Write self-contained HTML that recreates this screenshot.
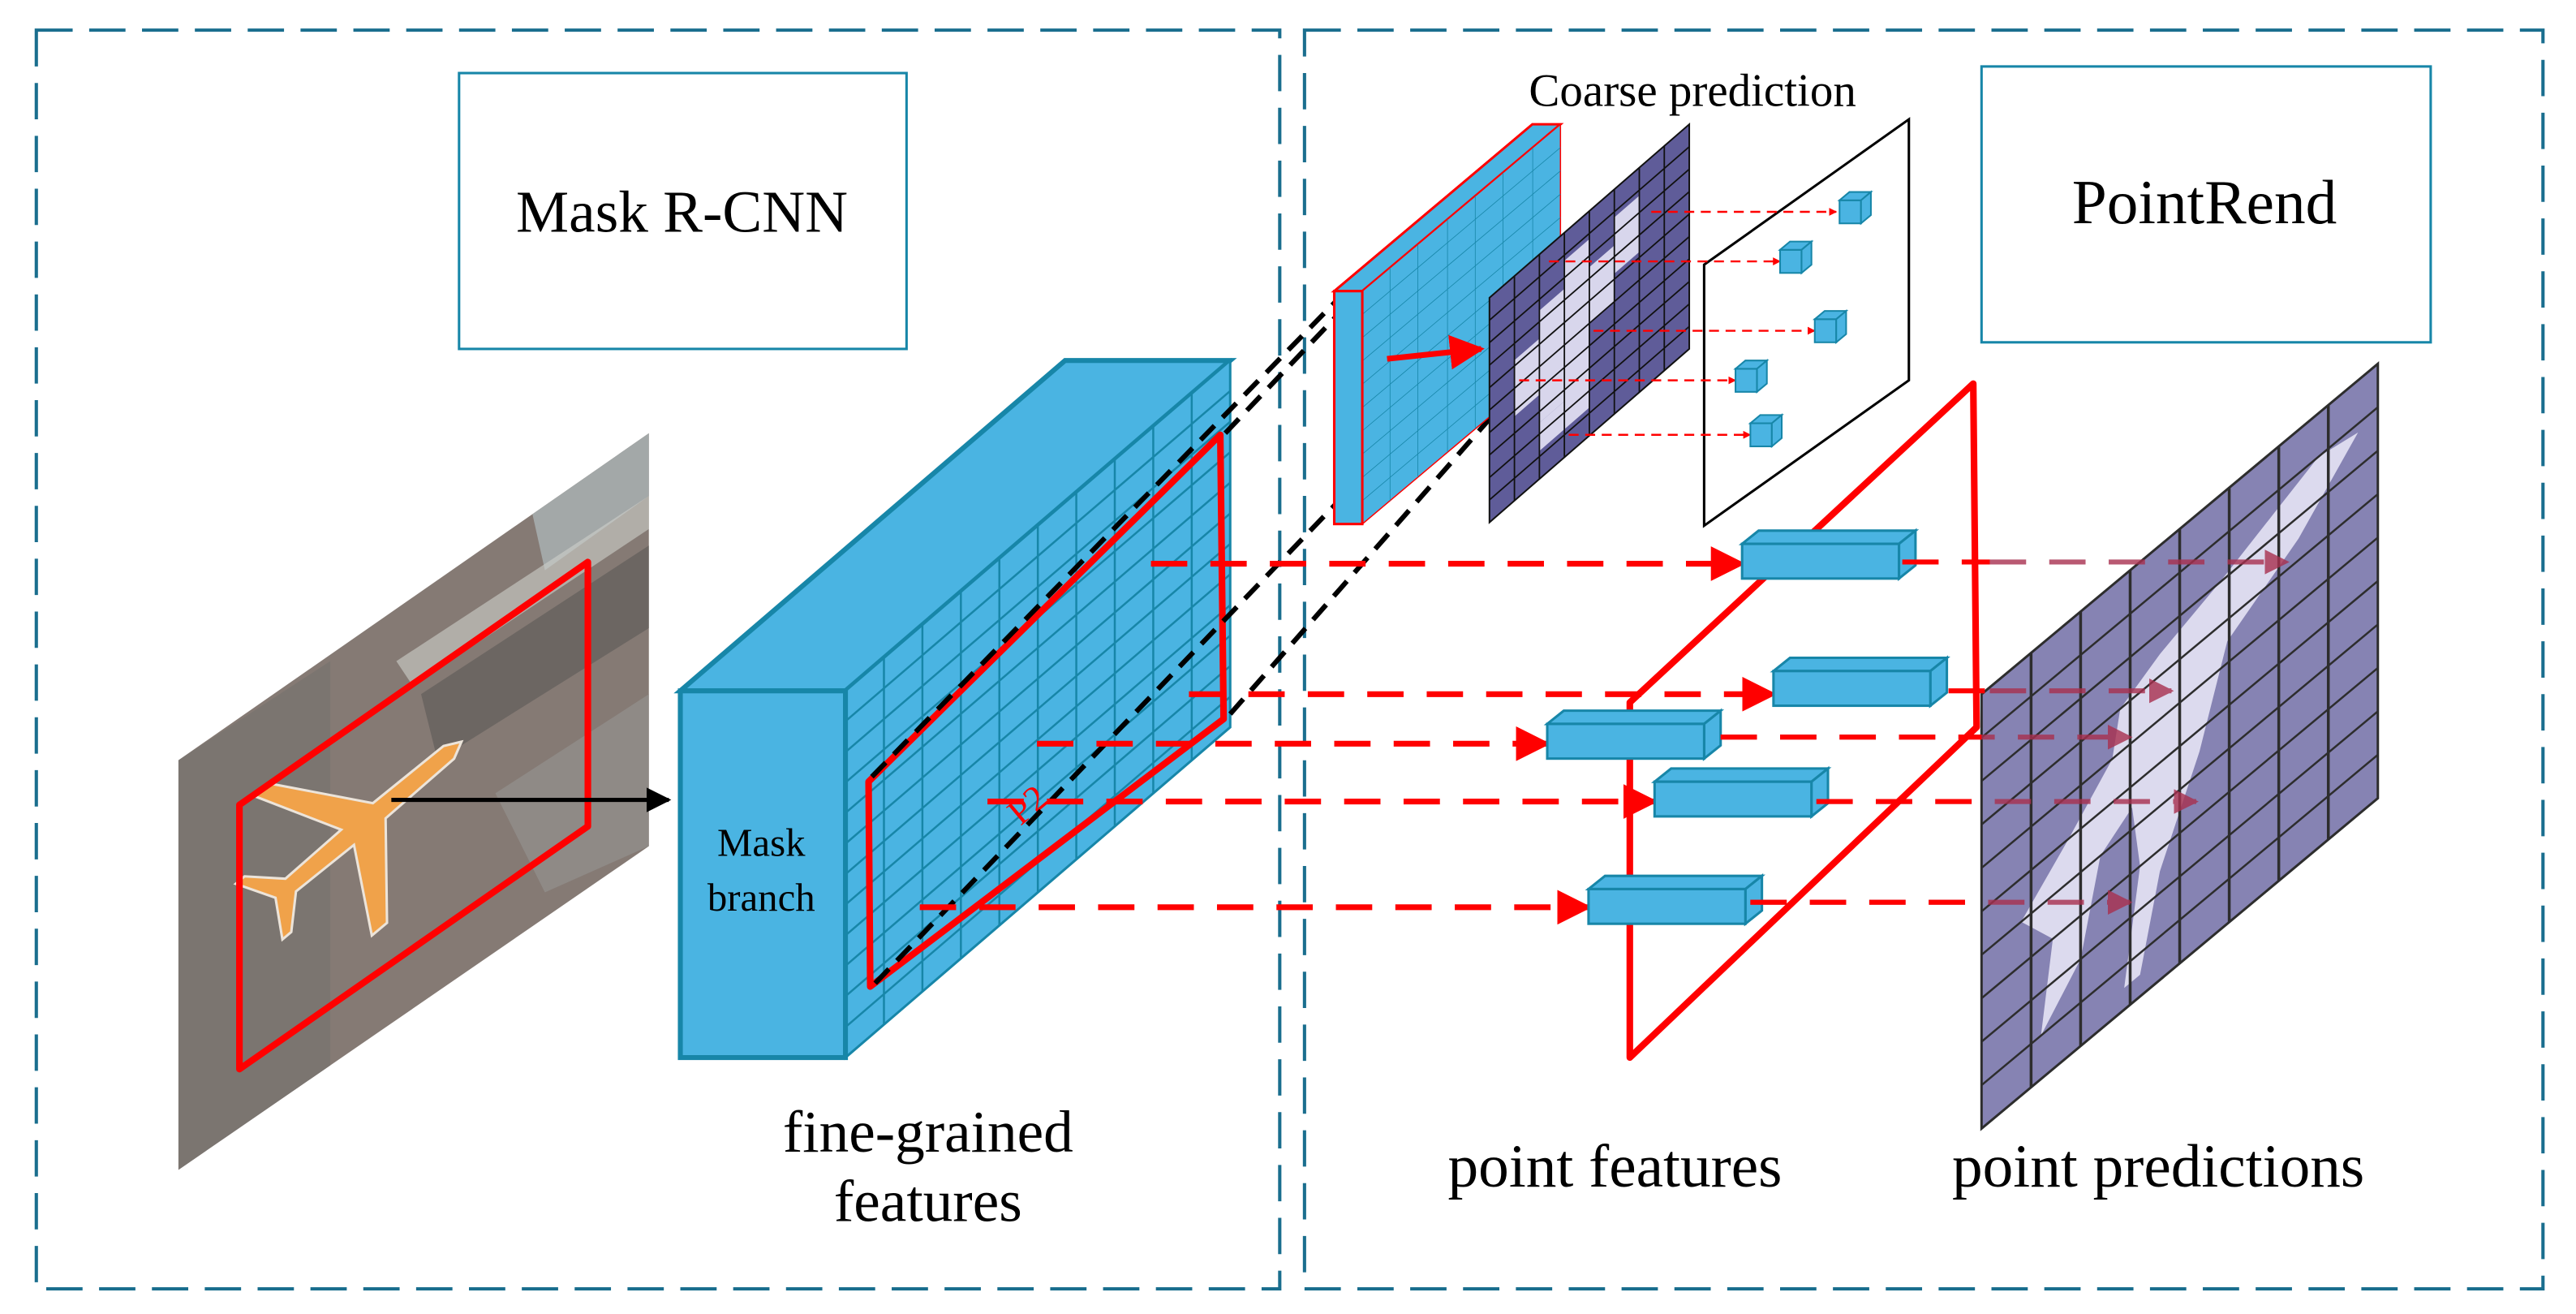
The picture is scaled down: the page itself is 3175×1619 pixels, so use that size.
<!DOCTYPE html>
<html><head><meta charset="utf-8"><style>
html,body{margin:0;padding:0;background:#fff;}
svg{display:block;}
text{font-family:"Liberation Serif",serif;fill:#000;}
</style></head><body>
<svg width="3175" height="1619" viewBox="0 0 1560 795" xmlns="http://www.w3.org/2000/svg">
<defs>
<marker id="ar" viewBox="0 0 10 10" refX="9" refY="5" markerWidth="4" markerHeight="4" orient="auto"><path d="M0,0 L10,5 L0,10 z" fill="#ff0000"/></marker>
<marker id="ars" viewBox="0 0 10 10" refX="9" refY="5" markerWidth="6" markerHeight="6" orient="auto"><path d="M0,0 L10,5 L0,10 z" fill="#ff0000"/></marker>
<marker id="arb" viewBox="0 0 10 10" refX="9" refY="5" markerWidth="6" markerHeight="6" orient="auto"><path d="M0,0 L10,5 L0,10 z" fill="#000"/></marker>
<marker id="arp" viewBox="0 0 10 10" refX="9" refY="5" markerWidth="5" markerHeight="5" orient="auto"><path d="M0,0 L10,5 L0,10 z" fill="#a8304f"/></marker>
<clipPath id="img"><polygon points="108,460 393,262 393,512 108,708"/></clipPath>
</defs>

<!-- panels -->
<rect x="22" y="18" width="753" height="762" fill="none" stroke="#1a6e8e" stroke-width="2" stroke-dasharray="22,10"/>
<rect x="790" y="18" width="750" height="762" fill="none" stroke="#1a6e8e" stroke-width="2" stroke-dasharray="22,10"/>

<rect x="278" y="44" width="271" height="167" fill="#fff" stroke="#1786a8" stroke-width="1.5"/>
<text x="413" y="140" font-size="36" text-anchor="middle">Mask R-CNN</text>
<rect x="1200" y="40" width="272" height="167" fill="#fff" stroke="#1786a8" stroke-width="1.5"/>
<text x="1335" y="135" font-size="38" text-anchor="middle">PointRend</text>

<!-- aerial image -->
<g clip-path="url(#img)">
<rect x="100" y="250" width="300" height="470" fill="#857a74"/>
<polygon points="108,460 200,400 200,650 108,708" fill="#7b7570"/>
<polygon points="320,300 393,250 393,300 330,345" fill="#a3a8a8"/>
<polygon points="240,400 393,300 393,320 250,415" fill="#cfd0cc" opacity="0.6"/>
<polygon points="255,420 393,330 393,380 265,460" fill="#6c6662"/>
<polygon points="300,480 393,420 393,512 330,540" fill="#8f8a86"/>
</g>
<g transform="translate(222,497) rotate(-40)">
<polygon points="75,0 65,-5 10,-6 -30,-55 -42,-55 -15,-6 -60,-5 -78,-22 -85,-22 -72,0 -85,22 -78,22 -60,5 -15,6 -42,55 -30,55 10,6 65,5" fill="#f0a24a" stroke="#ece4da" stroke-width="1.5"/>
</g>
<polygon points="145,487 356,340 356,500 145,647" fill="none" stroke="#ff0000" stroke-width="4" stroke-linejoin="round"/>
<line x1="237" y1="484" x2="405" y2="484" stroke="#000" stroke-width="2.5" marker-end="url(#arb)"/>

<!-- fine-grained box -->
<polygon points="412,418 512,418 745,218 645,218" fill="#4ab4e2" stroke="#1786a8" stroke-width="3"/>
<g transform="matrix(233,-200,0,222,512,418)">
<rect x="0" y="0" width="1" height="1" fill="#4ab4e2" stroke="#1786a8" stroke-width="3" vector-effect="non-scaling-stroke"/>
<path d="M0.1,0V1M0.2,0V1M0.3,0V1M0.4,0V1M0.5,0V1M0.6,0V1M0.7,0V1M0.8,0V1M0.9,0V1M0,0.083H1M0,0.167H1M0,0.25H1M0,0.333H1M0,0.417H1M0,0.5H1M0,0.583H1M0,0.667H1M0,0.75H1M0,0.833H1M0,0.917H1" stroke="#1786a8" stroke-width="2.5" fill="none" vector-effect="non-scaling-stroke"/>
</g>
<rect x="412" y="418" width="100" height="222" fill="#4ab4e2" stroke="#1786a8" stroke-width="3"/>
<text x="461" y="518" font-size="24" text-anchor="middle">Mask</text>
<text x="461" y="551" font-size="24" text-anchor="middle">branch</text>

<polygon points="526,473 739,263 741,435 527,597" fill="none" stroke="#ff0000" stroke-width="4" stroke-linejoin="round"/>
<text x="0" y="0" font-size="22" style="fill:#ff0000" transform="translate(618,500) rotate(-40)">P2</text>

<!-- black dashed projection lines -->
<g stroke="#000" stroke-width="3" stroke-dasharray="12,7" fill="none">
<line x1="528" y1="470" x2="815" y2="176"/>
<line x1="530" y1="595" x2="905" y2="205"/>
<line x1="742" y1="262" x2="820" y2="180"/>
<line x1="745" y1="432" x2="905" y2="250"/>
</g>

<!-- small blue feature map -->
<polygon points="808,176 825,176 945,75 928,75" fill="#4ab4e2" stroke="#ff0000" stroke-width="1.5"/>
<g transform="matrix(120,-101,0,141,825,176)">
<rect x="0" y="0" width="1" height="1" fill="#4ab4e2" stroke="#ff0000" stroke-width="1.5" vector-effect="non-scaling-stroke"/>
<path d="M0.14,0V1M0.28,0V1M0.43,0V1M0.57,0V1M0.71,0V1M0.86,0V1M0,0.1H1M0,0.2H1M0,0.3H1M0,0.4H1M0,0.5H1M0,0.6H1M0,0.7H1M0,0.8H1M0,0.9H1" stroke="#1786a8" stroke-width="0.8" fill="none" vector-effect="non-scaling-stroke"/>
</g>
<rect x="808" y="176" width="17" height="141" fill="#4ab4e2" stroke="#ff0000" stroke-width="1.5"/>
<line x1="840" y1="217" x2="897" y2="211" stroke="#ff0000" stroke-width="3.5" marker-end="url(#ars)"/>

<!-- coarse dark grid -->
<g transform="matrix(121,-105,0,136,902,180)">
<rect x="0" y="0" width="1" height="1" fill="#5f5c99"/>
<g fill="#d8d6ec">
<rect x="0.125" y="0.375" width="0.125" height="0.25"/>
<rect x="0.25" y="0.25" width="0.125" height="0.5"/>
<rect x="0.375" y="0.125" width="0.125" height="0.75"/>
<rect x="0.5" y="0.25" width="0.125" height="0.25"/>
<rect x="0.625" y="0.125" width="0.125" height="0.25"/>
<rect x="0.25" y="0.75" width="0.125" height="0.125"/>
</g>
<rect x="0" y="0" width="1" height="1" fill="none" stroke="#111" stroke-width="2" vector-effect="non-scaling-stroke"/>
<path d="M0.125,0V1M0.25,0V1M0.375,0V1M0.5,0V1M0.625,0V1M0.75,0V1M0.875,0V1M0,0.1H1M0,0.2H1M0,0.3H1M0,0.4H1M0,0.5H1M0,0.6H1M0,0.7H1M0,0.8H1M0,0.9H1" stroke="#111" stroke-width="1.8" fill="none" vector-effect="non-scaling-stroke"/>
</g>

<!-- white panel -->
<polygon points="1032,160 1156,72 1156,230 1032,318" fill="#fff" stroke="#000" stroke-width="1.5"/>
<g stroke="#ff0000" stroke-width="1.2" stroke-dasharray="6,4" fill="none">
<line x1="1000" y1="128" x2="1112" y2="128" marker-end="url(#ar)"/>
<line x1="938" y1="158" x2="1078" y2="158" marker-end="url(#ar)"/>
<line x1="965" y1="200" x2="1099" y2="200" marker-end="url(#ar)"/>
<line x1="920" y1="230" x2="1051" y2="230" marker-end="url(#ar)"/>
<line x1="950" y1="263" x2="1060" y2="263" marker-end="url(#ar)"/>
</g>
<g fill="#4ab4e2" stroke="#1786a8" stroke-width="1">
<g transform="translate(1114,116)"><rect x="0" y="5" width="13" height="14"/><polygon points="0,5 6,0 19,0 13,5"/><polygon points="13,5 19,0 19,14 13,19"/></g>
<g transform="translate(1078,146)"><rect x="0" y="5" width="13" height="14"/><polygon points="0,5 6,0 19,0 13,5"/><polygon points="13,5 19,0 19,14 13,19"/></g>
<g transform="translate(1099,188)"><rect x="0" y="5" width="13" height="14"/><polygon points="0,5 6,0 19,0 13,5"/><polygon points="13,5 19,0 19,14 13,19"/></g>
<g transform="translate(1051,218)"><rect x="0" y="5" width="13" height="14"/><polygon points="0,5 6,0 19,0 13,5"/><polygon points="13,5 19,0 19,14 13,19"/></g>
<g transform="translate(1060,251)"><rect x="0" y="5" width="13" height="14"/><polygon points="0,5 6,0 19,0 13,5"/><polygon points="13,5 19,0 19,14 13,19"/></g>
</g>
<text x="1025" y="64" font-size="28" text-anchor="middle">Coarse prediction</text>

<!-- prediction grid -->
<g transform="matrix(240,-200,0,263,1200,420)">
<rect x="0" y="0" width="1" height="1" fill="#8683b3"/>
<g fill="#dcdaee">
<polygon points="0.45,0.25 0.6,0.2 0.85,0.1 0.95,0.12 0.8,0.25 0.62,0.35 0.55,0.55 0.45,0.75 0.4,0.95 0.36,0.95 0.4,0.7 0.38,0.55 0.3,0.6 0.25,0.8 0.15,0.9 0.18,0.7 0.1,0.6 0.22,0.5 0.33,0.4 0.35,0.3"/>
</g>
<rect x="0" y="0" width="1" height="1" fill="none" stroke="#2d2d2d" stroke-width="3" vector-effect="non-scaling-stroke"/>
<path d="M0.125,0V1M0.25,0V1M0.375,0V1M0.5,0V1M0.625,0V1M0.75,0V1M0.875,0V1" stroke="#2d2d2d" stroke-width="3.5" fill="none" vector-effect="non-scaling-stroke"/>
<path d="M0,0.1H1M0,0.2H1M0,0.3H1M0,0.4H1M0,0.5H1M0,0.6H1M0,0.7H1M0,0.8H1M0,0.9H1" stroke="#2d2d2d" stroke-width="2.5" fill="none" vector-effect="non-scaling-stroke"/>
</g>

<!-- big red frame -->
<polygon points="987,425 1195,232 1197,440 987,640" fill="none" stroke="#ff0000" stroke-width="4" stroke-linejoin="round"/>

<!-- incoming dashed arrows -->
<g stroke="#ff0000" stroke-width="3.5" stroke-dasharray="22,14" fill="none">
<line x1="697" y1="341" x2="1055" y2="341" marker-end="url(#ars)"/>
<line x1="720" y1="420" x2="1074" y2="420" marker-end="url(#ars)"/>
<line x1="628" y1="450" x2="937" y2="450" marker-end="url(#ars)"/>
<line x1="598" y1="485" x2="1002" y2="485" marker-end="url(#ars)"/>
<line x1="557" y1="549" x2="962" y2="549" marker-end="url(#ars)"/>
</g>
<!-- bars -->
<g fill="#4ab4e2" stroke="#1786a8" stroke-width="1.5">
<g transform="translate(1055,321)"><polygon points="0,8 10,0 105,0 95,8"/><polygon points="95,8 105,0 105,21 95,29"/><rect x="0" y="8" width="95" height="21"/></g>
<g transform="translate(1074,398)"><polygon points="0,8 10,0 105,0 95,8"/><polygon points="95,8 105,0 105,21 95,29"/><rect x="0" y="8" width="95" height="21"/></g>
<g transform="translate(937,430)"><polygon points="0,8 10,0 105,0 95,8"/><polygon points="95,8 105,0 105,21 95,29"/><rect x="0" y="8" width="95" height="21"/></g>
<g transform="translate(1002,465)"><polygon points="0,8 10,0 105,0 95,8"/><polygon points="95,8 105,0 105,21 95,29"/><rect x="0" y="8" width="95" height="21"/></g>
<g transform="translate(962,530)"><polygon points="0,8 10,0 105,0 95,8"/><polygon points="95,8 105,0 105,21 95,29"/><rect x="0" y="8" width="95" height="21"/></g>
</g>
<!-- outgoing -->
<g stroke="#ff0000" stroke-width="3" stroke-dasharray="22,14" fill="none">
<line x1="1152" y1="340" x2="1205" y2="340"/>
<line x1="1180" y1="418" x2="1205" y2="418"/>
</g>
<g stroke="#a8304f" stroke-width="3" stroke-dasharray="22,14" fill="none" opacity="0.8">
<line x1="1205" y1="340" x2="1385" y2="340" marker-end="url(#arp)"/>
<line x1="1205" y1="418" x2="1315" y2="418" marker-end="url(#arp)"/>
<line x1="1042" y1="446" x2="1290" y2="446" marker-end="url(#arp)"/>
<line x1="1100" y1="485" x2="1330" y2="485" marker-end="url(#arp)"/>
<line x1="1060" y1="546" x2="1290" y2="546" marker-end="url(#arp)"/>
</g>
<g stroke="#ff0000" stroke-width="3" stroke-dasharray="22,14" fill="none">
<line x1="1042" y1="446" x2="1200" y2="446"/>
<line x1="1100" y1="485" x2="1200" y2="485"/>
<line x1="1060" y1="546" x2="1200" y2="546"/>
</g>

<text x="562" y="697" font-size="36" text-anchor="middle">fine-grained</text>
<text x="562" y="739" font-size="36" text-anchor="middle">features</text>
<text x="978" y="718" font-size="37" text-anchor="middle">point features</text>
<text x="1307" y="718" font-size="37" text-anchor="middle">point predictions</text>
</svg>
</body></html>
